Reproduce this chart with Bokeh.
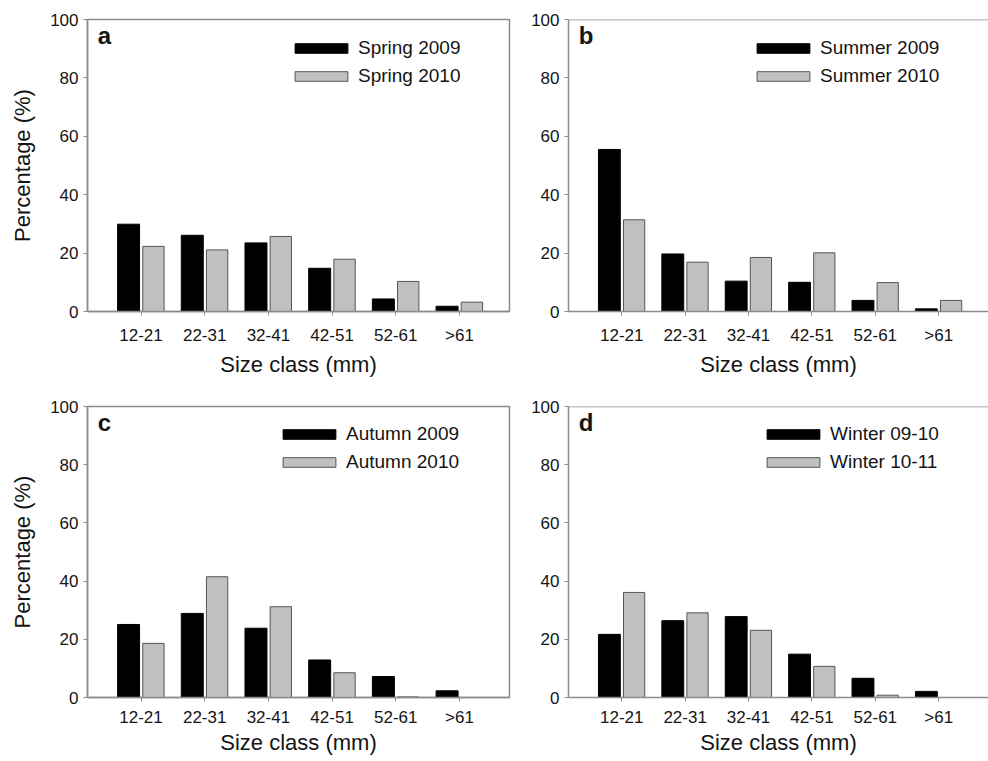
from bokeh.plotting import figure
from bokeh.layouts import column, row
from bokeh.models import Range1d, FixedTicker, Legend, LegendItem, Label, Span, ColumnDataSource
from bokeh.embed import file_html
from bokeh.resources import INLINE

size_classes = ["12-21", "22-31", "32-41", "42-51", "52-61", ">61"]
y_ticks = [0, 20, 40, 60, 80, 100]

spring_2009 = [29.9, 26.1, 23.5, 14.8, 4.3, 1.8]
spring_2010 = [22.3, 21.1, 25.7, 17.9, 10.3, 3.2]
summer_2009 = [55.5, 19.7, 10.4, 10.0, 3.8, 0.9]
summer_2010 = [31.4, 16.9, 18.5, 20.1, 9.9, 3.8]
autumn_2009 = [25.1, 28.9, 23.8, 12.9, 7.2, 2.3]
autumn_2010 = [18.6, 41.5, 31.2, 8.5, 0.2, 0.0]
winter_0910 = [21.7, 26.4, 27.8, 14.9, 6.6, 2.1]
winter_1011 = [36.1, 29.1, 23.1, 10.7, 0.8, 0.0]

FONT = "Liberation Sans"
AX = "#8c8c8c"
TXT = "#141414"


def panel(letter, n1, v1, n2, v2, left_col, top_row, leg_x):
    if left_col:
        w, mbl, mbr = 511, 87, 2
    else:
        w, mbl, mbr = 477, 57, 0
    if top_row:
        h, mbt, mbb = 388, 19, 77
    else:
        h, mbt, mbb = 373, 18, 64
    p = figure(width=w, height=h, output_backend="svg", toolbar_location=None,
               x_range=Range1d(-0.84, 5.785), y_range=Range1d(0, 100),
               min_border_left=mbl, min_border_right=mbr,
               min_border_top=mbt, min_border_bottom=mbb)
    p.background_fill_color = "white"
    p.border_fill_color = "white"
    p.xgrid.visible = False
    p.ygrid.visible = False
    if left_col:
        p.outline_line_color = AX
        p.outline_line_width = 1.5
    else:
        p.outline_line_color = None
        p.add_layout(Span(location=100, dimension="width", line_color=AX, line_width=1.5))

    idx = list(range(len(size_classes)))
    src = ColumnDataSource(dict(x1=[i - 0.195 for i in idx], x2=[i + 0.195 for i in idx], a=v1, b=v2))
    r1 = p.vbar(x="x1", top="a", bottom=0, width=0.345, source=src,
                fill_color="black", line_color="black", line_width=1)
    r2 = p.vbar(x="x2", top="b", bottom=0, width=0.335, source=src,
                fill_color="#c0c0c0", line_color="#555555", line_width=1)

    xa = p.xaxis[0]
    xa.ticker = FixedTicker(ticks=idx)
    xa.major_label_overrides = {i: s for i, s in zip(idx, size_classes)}
    xa.minor_tick_line_color = None
    xa.major_tick_in = 0
    xa.major_tick_out = 4
    xa.axis_line_color = AX
    xa.axis_line_width = 1.5
    xa.major_tick_line_color = AX
    xa.major_label_text_font = FONT
    xa.major_label_text_font_size = "17px"
    xa.major_label_text_color = TXT
    xa.major_label_standoff = 10 if top_row else 6
    xa.axis_label = "Size class (mm)"
    xa.axis_label_text_font = FONT
    xa.axis_label_text_font_size = "22px"
    xa.axis_label_text_font_style = "normal"
    xa.axis_label_text_color = TXT
    xa.axis_label_standoff = 4 if top_row else 0

    ya = p.yaxis[0]
    ya.ticker = FixedTicker(ticks=y_ticks)
    ya.minor_tick_line_color = None
    ya.major_tick_in = 0
    ya.major_tick_out = 4
    ya.axis_line_color = AX
    ya.axis_line_width = 1.5
    ya.major_tick_line_color = AX
    ya.major_label_text_font = FONT
    ya.major_label_text_font_size = "17px"
    ya.major_label_text_color = TXT
    ya.major_label_standoff = 5
    if left_col:
        ya.axis_label = "Percentage (%)"
        ya.axis_label_text_font = FONT
        ya.axis_label_text_font_size = "22px"
        ya.axis_label_text_font_style = "normal"
        ya.axis_label_text_color = TXT
        ya.axis_label_standoff = 12

    leg = Legend(items=[LegendItem(label=n1, renderers=[r1]), LegendItem(label=n2, renderers=[r2])],
                 location=(leg_x, 223), orientation="vertical",
                 glyph_width=66, glyph_height=12, label_height=24, spacing=4,
                 label_standoff=4, padding=0, margin=0,
                 border_line_color=None, background_fill_alpha=0,
                 label_text_font=FONT, label_text_font_size="19px", label_text_color=TXT)
    p.add_layout(leg, "center")

    p.add_layout(Label(x=-0.68, y=94.4, text=letter, text_font=FONT, text_font_size="24px",
                       text_font_style="bold", text_color=TXT, text_baseline="alphabetic"))
    return p


pa = panel("a", "Spring 2009", spring_2009, "Spring 2010", spring_2010, True, True, 201)
pb = panel("b", "Summer 2009", summer_2009, "Summer 2010", summer_2010, False, True, 182)
pc = panel("c", "Autumn 2009", autumn_2009, "Autumn 2010", autumn_2010, True, False, 189)
pd_ = panel("d", "Winter 09-10", winter_0910, "Winter 10-11", winter_1011, False, False, 192)

layout = column(row(pa, pb), row(pc, pd_))
open("out.html", "w").write(file_html(layout, INLINE))
